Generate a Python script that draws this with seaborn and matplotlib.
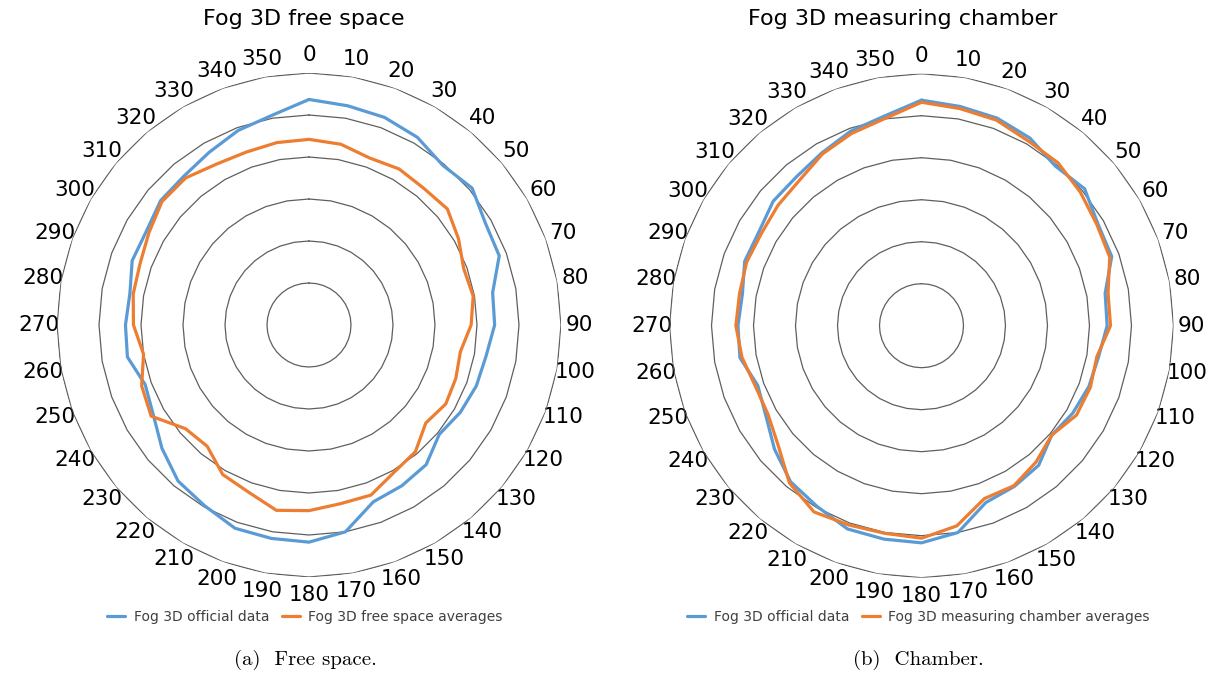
import numpy as np
import pandas as pd
import matplotlib
matplotlib.use("Agg")
import matplotlib.pyplot as plt
import seaborn as sns

# angles (deg) and values (radial units = ring index, 0..6)
angles = list(range(0, 360, 10))

official = [5.37, 5.30, 5.26, 5.16, 4.96, 5.07, 4.85, 4.82, 4.44, 4.42,
            4.28, 4.24, 4.16, 4.05, 4.34, 4.42, 4.48, 5.00, 5.17, 5.16,
            5.15, 4.97, 4.85, 4.57, 4.28, 4.15, 4.39, 4.37, 4.33, 4.48,
            4.47, 4.61, 4.63, 4.75, 4.93, 5.07]

free_space = [4.42, 4.37, 4.23, 4.29, 4.25, 4.30, 4.11, 3.92, 3.97, 3.86,
              3.66, 3.72, 3.76, 3.63, 3.94, 4.05, 4.31, 4.32, 4.42, 4.48,
              4.23, 4.11, 3.77, 3.84, 4.34, 4.24, 4.00, 4.18, 4.25, 4.28,
              4.40, 4.57, 4.57, 4.42, 4.38, 4.41]

chamber = [5.32, 5.25, 5.21, 5.08, 5.06, 4.94, 4.82, 4.77, 4.51, 4.50,
           4.24, 4.28, 4.26, 4.05, 4.24, 4.40, 4.38, 4.84, 5.06, 5.02,
           5.05, 5.12, 4.89, 4.45, 4.22, 4.21, 4.34, 4.42, 4.40, 4.43,
           4.40, 4.46, 4.52, 4.72, 4.87, 5.01]

rings = [1, 2, 3, 4, 5, 6]
tick_labels = [str(a) for a in angles]

blue = "#5B9BD5"
orange = "#ED7D31"

sns.set_style("white")
plt.rcParams['font.family'] = ['DejaVu Sans']

fig = plt.figure(figsize=(12.2, 6.75), dpi=100)


def closed(vals):
    return list(vals) + [vals[0]]


def radar(rect, other, other_name, title, caption, cx, tx):
    ax = fig.add_axes(rect, projection='polar')
    ax.set_theta_zero_location('N')
    ax.set_theta_direction(-1)
    theta = np.deg2rad(closed(angles))
    theta[-1] = 2 * np.pi

    # polygon gridlines like Excel radar
    for k in rings:
        ax.plot(theta, [k] * len(theta), color='#5f5f5f', lw=0.9, zorder=1)

    df = pd.DataFrame({
        'theta': np.concatenate([theta, theta]),
        'value': closed(official) + closed(other),
        'series': ['Fog 3D official data'] * len(theta) + [other_name] * len(theta),
    })
    sns.lineplot(data=df, x='theta', y='value', hue='series',
                 palette=[blue, orange], sort=False, estimator=None,
                 linewidth=2.3, ax=ax, zorder=3)

    ax.set_ylim(0, 6)
    ax.set_yticks([])
    ax.grid(False)
    ax.spines['polar'].set_visible(False)
    ax.set_xticks(np.deg2rad(angles))
    ax.set_xticklabels(tick_labels, fontsize=15.5, color='black')
    ax.tick_params(axis='x', pad=6, length=0)
    ax.set_xlabel('')
    ax.set_ylabel('')

    sns.move_legend(ax, loc='center', bbox_to_anchor=(cx, 1 - 617 / 675),
                    bbox_transform=fig.transFigure, ncol=2, frameon=False,
                    title=None, fontsize=10, handlelength=1.3,
                    handletextpad=0.6, columnspacing=0.9)
    for t in ax.get_legend().get_texts():
        t.set_color('#404040')

    fig.text(tx, 1 - 19 / 675, title, ha='center', va='center',
             fontsize=16, color='black')
    fig.text(cx, 1 - 660 / 675, caption, ha='center', va='center',
             fontsize=15, family='cmr10', color='black')
    return ax


radar([57 / 1220, 98 / 675, 504 / 1220, 504 / 675], free_space,
      'Fog 3D free space averages', 'Fog 3D free space', '(a)  Free space.',
      305 / 1220, 304 / 1220)
radar([669.5 / 1220, 97.3 / 675, 504 / 1220, 504 / 675], chamber,
      'Fog 3D measuring chamber averages', 'Fog 3D measuring chamber',
      '(b)  Chamber.', 918.5 / 1220, 903 / 1220)

fig.savefig('out.png', dpi=100)
